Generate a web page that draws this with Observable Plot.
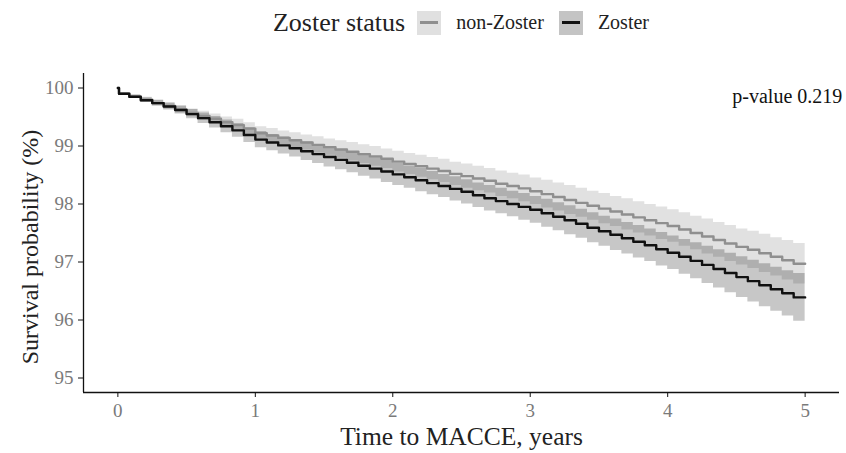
<!DOCTYPE html>
<html>
<head>
<meta charset="utf-8">
<script src="https://cdn.jsdelivr.net/npm/d3@7"></script>
<script src="https://cdn.jsdelivr.net/npm/@observablehq/plot@0.6"></script>
<style>
  body { margin: 0; background: #fff; font-family: "Liberation Serif", serif; }
  #wrap { position: relative; width: 846px; height: 453px; }
  #legend { height: 45px; box-sizing: border-box; padding: 0 0 0 91px; display: flex; align-items: center; justify-content: center; font-family: "Liberation Serif", serif; }
  #legend .title { font-family: "Liberation Serif", serif; font-size: 26px; color: #222; margin-right: 12px; }
  #legend .key { width: 24px; height: 24px; position: relative; margin-right: 15px; flex: none; }
  #legend .key span { position: absolute; left: 3px; right: 3px; top: 10.5px; height: 3px; }
  #legend .lab { font-family: "Liberation Serif", serif; font-size: 20px; color: #222; margin-right: 15px; }
</style>
</head>
<body>
<div id="wrap">
  <div id="legend"></div>
  <div id="chart"></div>
</div>
<script>
// Time in months
const months = [0, 0.1, 1, 2, 3, 4, 5, 6, 7, 8, 9, 10, 11, 12,
  13, 14, 15, 16, 17, 18, 19, 20, 21, 22, 23, 24,
  25, 26, 27, 28, 29, 30, 31, 32, 33, 34, 35, 36,
  37, 38, 39, 40, 41, 42, 43, 44, 45, 46, 47, 48,
  49, 50, 51, 52, 53, 54, 55, 56, 57, 58, 59, 60];

const groups = ["non-Zoster", "Zoster"];

// non-Zoster survival (%)
const nonZosterSurv = [100, 99.90, 99.85, 99.80, 99.74, 99.69, 99.63, 99.57, 99.52, 99.47, 99.41, 99.36, 99.30, 99.22,
  99.18, 99.14, 99.10, 99.06, 99.02, 98.98, 98.94, 98.90, 98.86, 98.82, 98.78, 98.73,
  98.69, 98.65, 98.61, 98.57, 98.52, 98.48, 98.44, 98.40, 98.35, 98.31, 98.27, 98.22,
  98.17, 98.12, 98.07, 98.02, 97.97, 97.92, 97.87, 97.82, 97.77, 97.72, 97.67, 97.62,
  97.56, 97.50, 97.44, 97.38, 97.32, 97.26, 97.21, 97.15, 97.09, 97.03, 96.97, 96.97];
// non-Zoster 95% CI half-width
const nonZosterCI = [0, 0.02, 0.03, 0.04, 0.05, 0.05, 0.06, 0.07, 0.08, 0.08, 0.09, 0.10, 0.10, 0.11,
  0.12, 0.12, 0.13, 0.13, 0.14, 0.14, 0.15, 0.16, 0.16, 0.17, 0.17, 0.18,
  0.18, 0.19, 0.19, 0.20, 0.20, 0.21, 0.21, 0.21, 0.22, 0.22, 0.23, 0.23,
  0.24, 0.24, 0.25, 0.25, 0.25, 0.26, 0.26, 0.27, 0.27, 0.27, 0.28, 0.28,
  0.29, 0.29, 0.30, 0.30, 0.31, 0.31, 0.32, 0.33, 0.33, 0.34, 0.35, 0.35];

// Zoster survival (%)
const zosterSurv = [100, 99.90, 99.85, 99.79, 99.74, 99.68, 99.62, 99.55, 99.48, 99.41, 99.34, 99.27, 99.19, 99.11,
  99.06, 99.01, 98.96, 98.91, 98.86, 98.81, 98.76, 98.71, 98.66, 98.61, 98.56, 98.51,
  98.46, 98.41, 98.36, 98.31, 98.26, 98.21, 98.15, 98.10, 98.05, 98.00, 97.95, 97.90,
  97.84, 97.78, 97.72, 97.66, 97.59, 97.53, 97.47, 97.41, 97.35, 97.29, 97.22, 97.16,
  97.09, 97.02, 96.95, 96.88, 96.81, 96.74, 96.67, 96.60, 96.53, 96.46, 96.39, 96.39];
// Zoster 95% CI half-width
const zosterCI = [0, 0.02, 0.03, 0.04, 0.05, 0.06, 0.07, 0.08, 0.09, 0.10, 0.11, 0.12, 0.13, 0.14,
  0.14, 0.15, 0.15, 0.16, 0.16, 0.17, 0.17, 0.17, 0.18, 0.18, 0.19, 0.19,
  0.19, 0.20, 0.20, 0.20, 0.21, 0.21, 0.21, 0.22, 0.22, 0.22, 0.23, 0.23,
  0.24, 0.24, 0.25, 0.25, 0.26, 0.26, 0.27, 0.27, 0.28, 0.28, 0.29, 0.29,
  0.30, 0.31, 0.32, 0.33, 0.34, 0.35, 0.36, 0.37, 0.38, 0.39, 0.41, 0.41];

const xTicks = [0, 1, 2, 3, 4, 5];
const yTicks = [95, 96, 97, 98, 99, 100];
const pValueText = "p-value 0.219";

const lineColors = {"non-Zoster": "#8f8f8f", "Zoster": "#111111"};
const bandFill = {"non-Zoster": "#9a9a9a", "Zoster": "#000000"};
const bandOpacity = {"non-Zoster": 0.3, "Zoster": 0.22};
const keyFill = {"non-Zoster": "#e0e0e0", "Zoster": "#c4c4c4"};

function build(surv, ci) {
  return months.map((m, i) => ({t: m / 12, est: surv[i], lo: surv[i] - ci[i], hi: surv[i] + ci[i]}));
}
const nz = build(nonZosterSurv, nonZosterCI);
const zz = build(zosterSurv, zosterCI);

// Legend
const leg = document.getElementById("legend");
leg.innerHTML = `<span class="title">Zoster status</span>` + groups.map(g =>
  `<span class="key" style="background:${keyFill[g]}"><span style="background:${lineColors[g]}"></span></span><span class="lab">${g}</span>`
).join("");

const xDom = [-0.25, 5.25];
const yDom = [94.75, 100.25];

const chart = Plot.plot({
  width: 846,
  height: 408,
  marginLeft: 83,
  marginRight: 7,
  marginTop: 28,
  marginBottom: 61,
  style: {fontFamily: "Liberation Serif", fontSize: "19px", background: "#fff"},
  x: {domain: xDom},
  y: {domain: yDom},
  marks: [
    Plot.areaY(nz, {x: "t", y1: "lo", y2: "hi", curve: "step-after", fill: bandFill["non-Zoster"], fillOpacity: bandOpacity["non-Zoster"]}),
    Plot.areaY(zz, {x: "t", y1: "lo", y2: "hi", curve: "step-after", fill: bandFill["Zoster"], fillOpacity: bandOpacity["Zoster"]}),
    Plot.lineY(nz, {x: "t", y: "est", curve: "step-after", stroke: lineColors["non-Zoster"], strokeWidth: 2.4}),
    Plot.lineY(zz, {x: "t", y: "est", curve: "step-after", stroke: lineColors["Zoster"], strokeWidth: 2.4}),
    Plot.ruleX([xDom[0]], {stroke: "#111", strokeWidth: 1.3}),
    Plot.ruleY([yDom[0]], {stroke: "#111", strokeWidth: 1.3}),
    Plot.axisX({ticks: xTicks, tickFormat: d => String(d), tickSize: 5, tickPadding: 6, stroke: "#111", fill: "#7a7a7a", label: null, fontSize: 19}),
    Plot.axisY({ticks: yTicks, tickFormat: d => String(d), tickSize: 5, tickPadding: 5, stroke: "#111", fill: "#7a7a7a", label: null, fontSize: 19}),
    Plot.text([pValueText], {x: 4.47, y: 99.86, text: d => d, textAnchor: "start", fontSize: 20, fill: "#111"}),
    Plot.text(["Time to MACCE, years"], {frameAnchor: "bottom", dy: 52, textAnchor: "middle", text: d => d, fontSize: 25.5, fill: "#222"}),
    Plot.text(["Survival probability (%)"], {frameAnchor: "left", dx: -53, dy: 14, rotate: -90, textAnchor: "middle", lineAnchor: "middle", text: d => d, fontSize: 24, fill: "#222"})
  ]
});
document.getElementById("chart").appendChild(chart);
</script>
</body>
</html>
